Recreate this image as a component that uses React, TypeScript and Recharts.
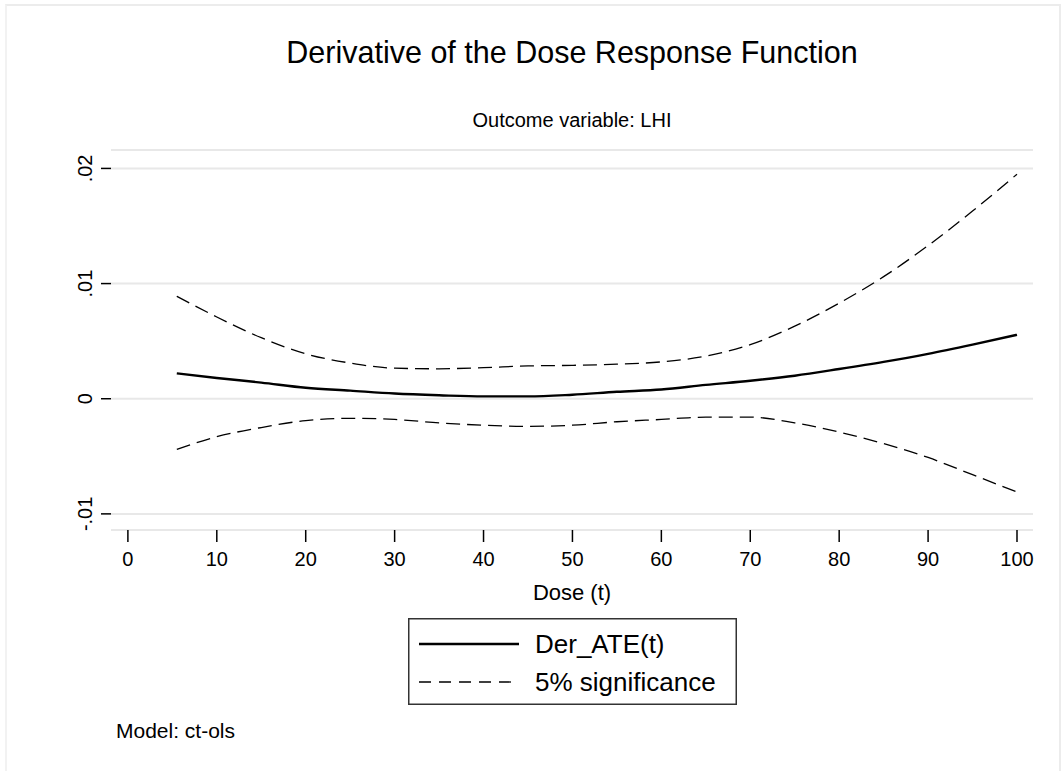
import { CartesianGrid, Legend, Line, LineChart, XAxis, YAxis } from "recharts"

const FONT = "'Liberation Sans', Arial, Helvetica, sans-serif"

// dose values where the curves were read
const dose = [5.5, 10, 15, 20, 25, 30, 35, 40, 45, 50, 55, 60, 65, 70, 75, 80, 85, 90, 95, 100]

// Der_ATE(t)
const derAte = [
  0.0022, 0.0018, 0.0014, 0.00095, 0.0007, 0.00045, 0.0003, 0.0002, 0.0002, 0.00035,
  0.0006, 0.0008, 0.0012, 0.00156, 0.002, 0.00258, 0.0032, 0.0039, 0.0047, 0.00555,
]

// 5% significance bands
const upperBand = [
  0.0089, 0.0071, 0.0053, 0.0039, 0.0031, 0.00265, 0.0026, 0.0027, 0.00285, 0.0029,
  0.003, 0.0032, 0.0037, 0.0047, 0.0063, 0.0083, 0.0106, 0.0133, 0.0163, 0.0195,
]
const lowerBand = [
  -0.0044, -0.0033, -0.0025, -0.0019, -0.0017, -0.0018, -0.0021, -0.0023, -0.0024, -0.0023,
  -0.002, -0.0018, -0.0016, -0.0016, -0.0021, -0.0029, -0.0039, -0.0051, -0.0066, -0.0081,
]

const xTicks = [0, 10, 20, 30, 40, 50, 60, 70, 80, 90, 100]
const yTicks = [-0.01, 0, 0.01, 0.02]
const yTickLabels = ["-.01", "0", ".01", ".02"]

const data = dose.map((t, i) => ({
  t,
  der: derAte[i],
  hi: upperBand[i],
  lo: lowerBand[i],
}))

function YTick(props: any) {
  const { x, y, payload } = props
  const i = yTicks.indexOf(payload.value)
  return (
    <text
      x={x}
      y={y}
      dy="0.35em"
      transform={`rotate(-90 ${x} ${y})`}
      textAnchor="middle"
      fill="#000"
      fontSize={20}
      fontFamily={FONT}
    >
      {yTickLabels[i]}
    </text>
  )
}

function LegendBox() {
  return (
    <svg width={329} height={87} style={{ display: "block" }}>
      <rect x={0.75} y={0.75} width={327.5} height={85.5} fill="#fff" stroke="#333" strokeWidth={1.5} />
      <line x1={11} x2={111} y1={26} y2={26} stroke="#000" strokeWidth={2.5} />
      <text x={127} y={26} dy="0.35em" fontSize={26} fontFamily={FONT} fill="#000">
        Der_ATE(t)
      </text>
      <line x1={11} x2={111} y1={64} y2={64} stroke="#000" strokeWidth={1.3} strokeDasharray="12 8" />
      <text x={127} y={64} dy="0.35em" fontSize={26} fontFamily={FONT} fill="#000">
        5% significance
      </text>
    </svg>
  )
}

function textAt(top: number, fontSize: number) {
  return {
    position: "absolute" as const,
    top: top - fontSize * 0.49,
    fontSize,
    lineHeight: `${fontSize}px`,
    fontFamily: FONT,
    color: "#000",
    whiteSpace: "nowrap" as const,
  }
}

export default function App() {
  return (
    <div
      style={{
        position: "absolute",
        left: 0,
        top: 0,
        width: 1063,
        height: 771,
        background: "#fff",
        overflow: "hidden",
      }}
    >
      <div
        style={{
          position: "absolute",
          left: 5,
          top: 4,
          width: 1052,
          height: 800,
          borderTop: "2px solid #ececec",
          borderLeft: "2px solid #f2f2f2",
          borderRight: "2px solid #ececec",
        }}
      />
      <LineChart
        width={1063}
        height={771}
        data={data}
        margin={{ top: 150, right: 30, bottom: 211, left: 0 }}
      >
        <CartesianGrid horizontal vertical={false} stroke="#e8e8e8" strokeWidth={2} />
        <XAxis
          dataKey="t"
          type="number"
          domain={[-1.9, 101.8]}
          allowDataOverflow
          ticks={xTicks}
          interval={0}
          height={30}
          axisLine={false}
          tickSize={12}
          tickMargin={10}
          tickLine={{ stroke: "#000", strokeWidth: 1.5 }}
          tick={{ fill: "#000", fontSize: 20, fontFamily: FONT }}
        />
        <YAxis
          type="number"
          domain={[-0.0114, 0.0216]}
          allowDataOverflow
          ticks={yTicks}
          interval={0}
          width={111}
          axisLine={false}
          tickSize={10}
          tickMargin={16}
          tickLine={{ stroke: "#000", strokeWidth: 1.5 }}
          tick={<YTick />}
        />
        <Line
          dataKey="hi"
          type="monotone"
          stroke="#000"
          strokeWidth={1.3}
          strokeDasharray="14 7"
          dot={false}
          isAnimationActive={false}
        />
        <Line
          dataKey="lo"
          type="monotone"
          stroke="#000"
          strokeWidth={1.3}
          strokeDasharray="14 7"
          dot={false}
          isAnimationActive={false}
        />
        <Line
          dataKey="der"
          type="monotone"
          stroke="#000"
          strokeWidth={2.4}
          dot={false}
          isAnimationActive={false}
        />
        <Legend
          layout="horizontal"
          verticalAlign="middle"
          align="center"
          content={<LegendBox />}
          wrapperStyle={{ position: "absolute", left: 408, top: 618, width: 329, height: 87 }}
        />
      </LineChart>
      <div style={{ ...textAt(52, 30.5), left: 0, width: 1144, textAlign: "center" }}>
        Derivative of the Dose Response Function
      </div>
      <div style={{ ...textAt(120, 20), left: 0, width: 1144, textAlign: "center" }}>
        Outcome variable: LHI
      </div>
      <div style={{ ...textAt(593, 22), left: 0, width: 1144, textAlign: "center" }}>
        Dose (t)
      </div>
      <div style={{ ...textAt(730, 21), left: 116 }}>Model: ct-ols</div>
    </div>
  )
}
